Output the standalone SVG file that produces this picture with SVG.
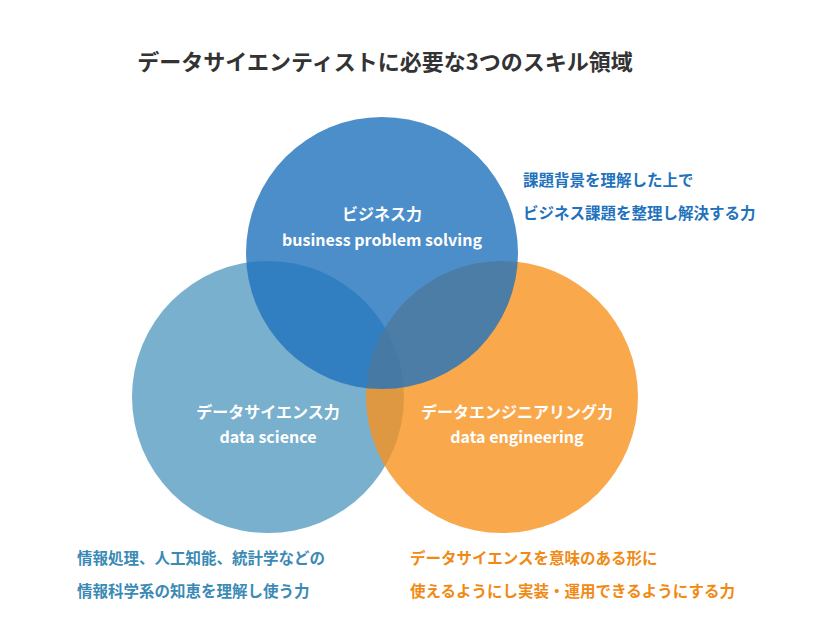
<svg xmlns="http://www.w3.org/2000/svg" width="817" height="629" viewBox="0 0 817 629">
<style>
text{font-family:"Noto Sans CJK JP","Noto Sans",sans-serif;font-weight:bold}
.in{fill:#fff;font-size:16px;text-anchor:middle}
.note{font-size:15.5px}
</style>
<rect width="817" height="629" fill="#fff"/>
<text x="385" y="70" font-size="22" fill="#333" text-anchor="middle">データサイエンティストに必要な3つのスキル領域</text>
<g id="nodes">
<g id="ds"><circle cx="268" cy="397" r="136" fill="#5b9fc2" fill-opacity="0.82"/></g>
<g id="de"><circle cx="502" cy="397" r="136" fill="#f7921f" fill-opacity="0.8"/></g>
<g id="biz"><circle cx="382" cy="253" r="136" fill="#1f72bd" fill-opacity="0.8"/></g>
<g id="labels">
<text class="in" x="382" y="220">ビジネス力</text>
<text class="in" x="382" y="246">business problem solving</text>
<text class="in" x="268" y="418">データサイエンス力</text>
<text class="in" x="268" y="443">data science</text>
<text class="in" x="517" y="418">データエンジニアリング力</text>
<text class="in" x="517" y="443">data engineering</text>
</g>
</g>
<g id="connectors"></g>
<g id="notes">
<text class="note" x="523" y="186" fill="#1f72bd">課題背景を理解した上で</text>
<text class="note" x="523" y="219" fill="#1f72bd">ビジネス課題を整理し解決する力</text>
<text class="note" x="77" y="564" fill="#3a8ab5">情報処理、人工知能、統計学などの</text>
<text class="note" x="77" y="597" fill="#3a8ab5">情報科学系の知恵を理解し使う力</text>
<text class="note" x="410" y="564" fill="#f08a14">データサイエンスを意味のある形に</text>
<text class="note" x="410" y="597" fill="#f08a14">使えるようにし実装・運用できるようにする力</text>
</g>
</svg>
